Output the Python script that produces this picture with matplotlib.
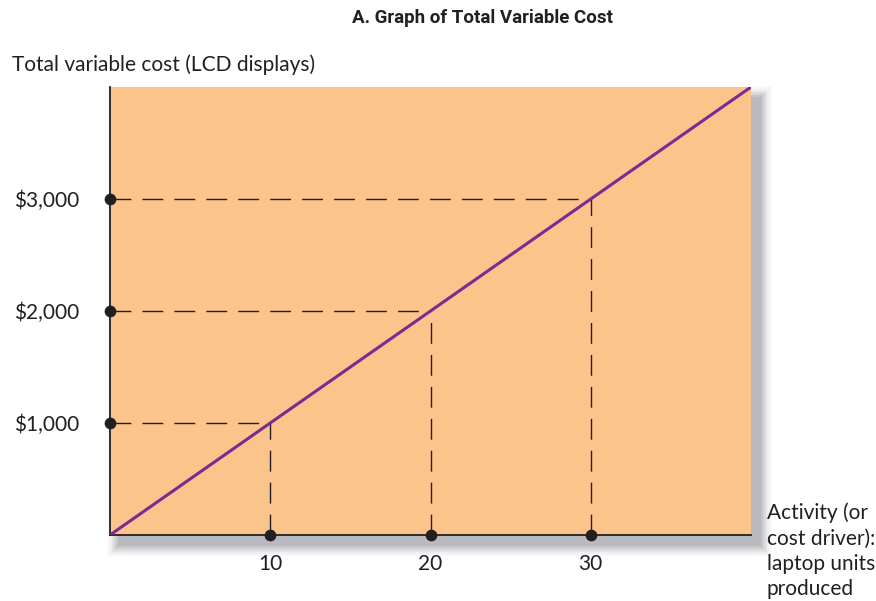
import numpy as np
import matplotlib.pyplot as plt
from matplotlib.patches import Rectangle

# Total variable cost of LCD displays vs. laptop units produced
units = [0, 40]
cost = [0, 4000]
marked_units = [10, 20, 30]
marked_cost = [1000, 2000, 3000]
y_labels = ['$1,000', '$2,000', '$3,000']
x_labels = ['10', '20', '30']

fill = '#FBC48B'
purple = '#7B2A92'
ink = '#231F20'

plt.rcParams['font.family'] = ['Lato', 'DejaVu Sans']

fig = plt.figure(figsize=(8.76, 6.01), dpi=100)
ax = fig.add_axes([110 / 876, 66 / 601, 641 / 876, 448 / 601])
ax.set_xlim(0, 40)
ax.set_ylim(0, 4000)
ax.set_facecolor(fill)
ax.set_zorder(2)

# soft grey drop shadow behind the plot area
bg = fig.add_axes([0, 0, 1, 1], zorder=0)
bg.set_xlim(0, 876)
bg.set_ylim(601, 0)
bg.axis('off')
for i, a in enumerate(np.linspace(0.12, 0.02, 8)):
    pad = i * 1.6
    bg.add_patch(Rectangle((112 - pad + 6, 90 - pad + 7), 639 + 2 * pad + 4, 445 + 2 * pad + 4,
                           facecolor='#6a6a78', alpha=a, edgecolor='none'))
bg.add_patch(Rectangle((110, 87), 641, 448, facecolor=fill, edgecolor='none'))

for s in ['top', 'right']:
    ax.spines[s].set_visible(False)
for s in ['left', 'bottom']:
    ax.spines[s].set_color(ink)
    ax.spines[s].set_linewidth(1.3)

# dashed guides from each marked point to the axes
for u, c in zip(marked_units, marked_cost):
    ax.plot([0, u], [c, c], color=ink, lw=1.0, dashes=(15, 8), zorder=3)
    ax.plot([u, u], [0, c], color=ink, lw=1.0, dashes=(15, 8), zorder=3)

ax.plot(units, cost, color=purple, lw=2.2, zorder=4, solid_capstyle='butt')

ax.scatter([0] * 3, marked_cost, s=55, color=ink, zorder=5, clip_on=False)
ax.scatter(marked_units, [0] * 3, s=55, color=ink, zorder=5, clip_on=False)

ax.set_xticks(marked_units)
ax.set_xticklabels(x_labels)
ax.set_yticks(marked_cost)
ax.set_yticklabels(y_labels)
ax.tick_params(length=0, labelsize=15, colors=ink)
ax.tick_params(axis='x', pad=14)
ax.tick_params(axis='y', pad=22)

fig.text(483 / 876, 1 - 18 / 601, 'A. Graph of Total Variable Cost', ha='center', va='center',
         fontsize=13.5, fontweight='bold', color=ink,
         family=['Liberation Sans Narrow', 'Roboto', 'DejaVu Sans'])
fig.text(12 / 876, 1 - 65 / 601, 'Total variable cost (LCD displays)', ha='left', va='center',
         fontsize=15, color=ink)
fig.text(767 / 876, 1 - 551 / 601, 'Activity (or\ncost driver):\nlaptop units\nproduced',
         ha='left', va='center', fontsize=15, color=ink, linespacing=1.33)

fig.savefig('out.png', dpi=100)
